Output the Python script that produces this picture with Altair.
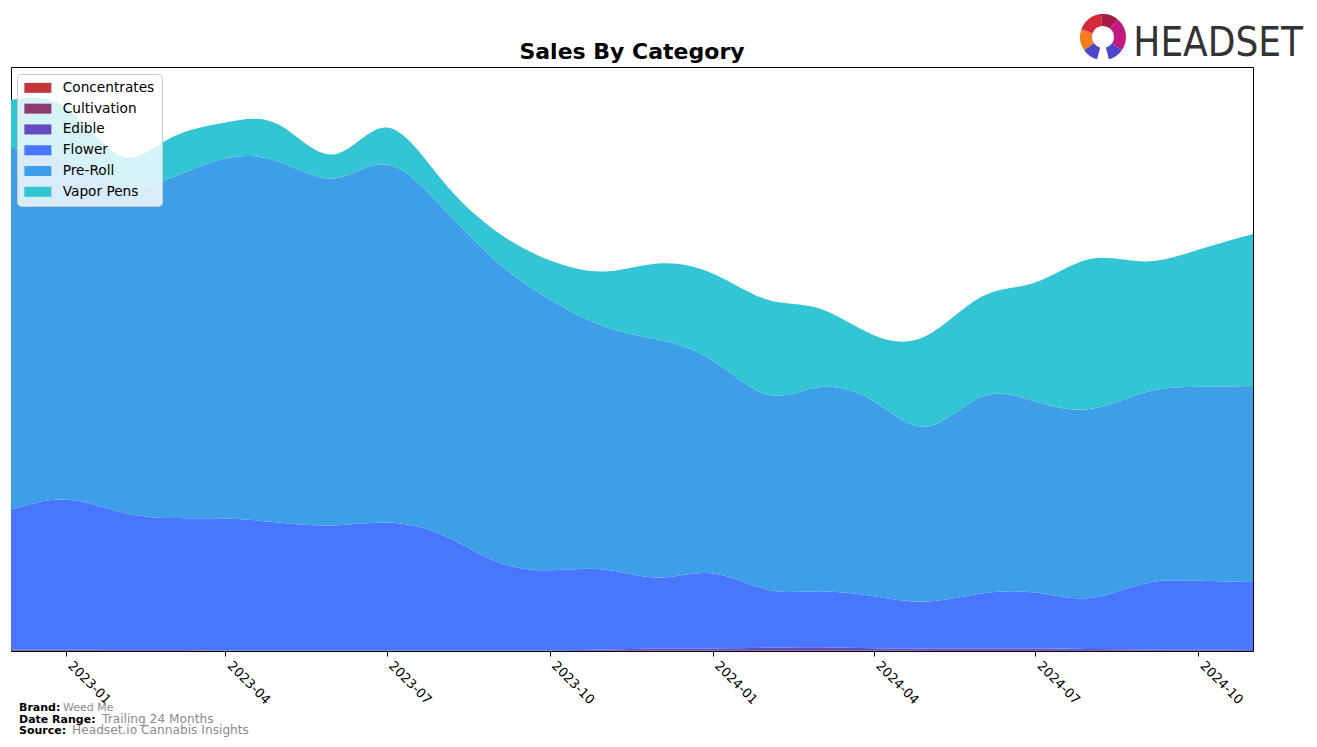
import altair as alt
import pandas as pd

# ---- data (arbitrary sales units) ----
dates = [
    "2022-12-01", "2023-01-01", "2023-02-01", "2023-03-01", "2023-04-01", "2023-05-01",
    "2023-06-01", "2023-07-01", "2023-08-01", "2023-09-01", "2023-10-01", "2023-11-01",
    "2023-12-01", "2024-01-01", "2024-02-01", "2024-03-01", "2024-04-01", "2024-05-01",
    "2024-06-01", "2024-07-01", "2024-08-01", "2024-09-01", "2024-10-01", "2024-11-01",
]
categories = ["Concentrates", "Cultivation", "Edible", "Flower", "Pre-Roll", "Vapor Pens"]
colors = ["#c4363a", "#8e3a6e", "#6549be", "#4876ff", "#3e9fe8", "#34c5d4"]

concentrates = [0, 0, 0, 0, 0, 0, 0, 0, 0, 0, 0, 0, 0, 0, 0, 0, 0, 0, 0, 0, 0, 0, 0, 0]
cultivation = [0.8, 0.8, 0.6, 0.5, 0.3, 0.2, 0.2, 0.2, 0.2, 0.2, 0.2, 0.3,
               0.4, 0.4, 0.5, 0.5, 0.4, 0.3, 0.3, 0.3, 0.3, 0.2, 0.2, 0.2]
edible = [0.5, 0.5, 0.5, 0.4, 0.3, 0.3, 0.3, 0.3, 0.3, 0.3, 0.5, 1.2,
          2.0, 2.2, 2.8, 3.2, 2.4, 2.2, 2.2, 2.2, 1.8, 1.4, 1.0, 0.9]
flower = [140, 150, 138, 132, 132, 128, 125, 128, 116, 89, 80, 80,
          71, 75, 58, 56, 52, 47, 55, 56, 51, 66, 69, 68]
preroll = [362, 340, 326, 340, 360, 361, 347, 358, 328, 300, 271, 243,
           238, 213, 195, 204, 195, 175, 197, 191, 189, 191, 194, 196]
vapor = [48, 52, 30, 40, 36, 37, 24, 37, 27, 30, 39, 55,
         76, 87, 95, 79, 66, 91, 100, 119, 150, 131, 137, 152]

series = [concentrates, cultivation, edible, flower, preroll, vapor]

tick_dates = ["2023-01", "2023-04", "2023-07", "2023-10", "2024-01", "2024-04", "2024-07", "2024-10"]

rows = []
for i, d in enumerate(dates):
    for k, (cat, vals) in enumerate(zip(categories, series)):
        rows.append({"date": d + "T00:00:00", "category": cat, "order": k, "sales": vals[i]})
df = pd.DataFrame(rows)


def dt(s):
    y, m = s.split("-")[:2]
    return alt.DateTime(year=int(y), month=int(m), date=1)


legend = alt.Legend(
    title=None, orient="none", legendX=6, legendY=7,
    fillColor="rgba(255,255,255,0.8)", strokeColor="#cccccc", cornerRadius=4,
    padding=7, symbolType="M-2.7,-1L2.7,-1L2.7,1L-2.7,1Z", symbolSize=100,
    symbolOffset=7, symbolStrokeWidth=0, symbolOpacity=1, labelOffset=18,
    labelFont="DejaVu Sans", labelFontSize=13.7, labelColor="black", rowPadding=5.8,
)

area = alt.Chart(df).mark_area(interpolate="natural", opacity=1).encode(
    x=alt.X(
        "date:T",
        scale=alt.Scale(domain=[dt("2022-12"), dt("2024-11")], nice=False),
        axis=alt.Axis(
            title=None, values=[dt(t) for t in tick_dates], format="%Y-%m",
            labelAngle=45, labelAlign="left", labelBaseline="top",
            labelFont="DejaVu Sans", labelFontSize=13, labelColor="black",
            tickColor="black", tickSize=5, tickWidth=1, domain=False, grid=False,
            labelPadding=3, labelOffset=8, labelOverlap=False, labelFlush=False,
        ),
    ),
    y=alt.Y("sales:Q", stack="zero", scale=alt.Scale(domain=[0, 584], nice=False), axis=None),
    color=alt.Color("category:N", scale=alt.Scale(domain=categories, range=colors), legend=legend),
    order=alt.Order("order:Q", sort="ascending"),
)


def label(text, x, y, size, weight="normal", color="black", align="left", font="DejaVu Sans"):
    return alt.Chart(pd.DataFrame({"t": [text]})).mark_text(
        align=align, baseline="alphabetic", fontSize=size, fontWeight=weight,
        color=color, font=font,
    ).encode(text="t:N", x=alt.value(x), y=alt.value(y))


texts = [
    label("Sales By Category", 621, -8, 22, weight="bold", align="center"),
    label("Brand:", 8, 644, 11, weight="bold"),
    label("Weed Me", 52, 644, 11, color="#8a8a8a"),
    label("Date Range:", 8, 655.5, 11, weight="bold"),
    label("Trailing 24 Months", 91, 655.5, 12.2, color="#8a8a8a"),
    label("Source:", 8, 667, 11, weight="bold"),
    label("Headset.io Cannabis Insights", 61, 667, 12.2, color="#8a8a8a"),
    label("HEADSET", 1292, -11, 40, color="#333333", align="right",
          font="Liberation Sans Narrow, DejaVu Sans Condensed, Liberation Sans, sans-serif"),
]

# logo ring segments (degrees clockwise from 12 o'clock)
seg_start = [235, 290, 355, 0, 40, 125, 195]
seg_end = [290, 355, 360, 40, 125, 165, 235]
seg_color = ["#f47b20", "#d42a39", "#a51d45", "#a51d45", "#c2187f", "#4e46c8", "#4e46c8"]
logo_df = pd.DataFrame({
    "t1": [a * 3.14159265 / 180 for a in seg_start],
    "t2": [a * 3.14159265 / 180 for a in seg_end],
    "c": seg_color,
})
logo = alt.Chart(logo_df).mark_arc(innerRadius=11, outerRadius=23).encode(
    theta=alt.Theta("t1:Q", scale=None),
    theta2=alt.Theta2("t2:Q"),
    fill=alt.Fill("c:N", scale=None),
    x=alt.value(1092),
    y=alt.value(-30),
)

chart = alt.layer(area, *texts, logo).properties(
    width=1242, height=584,
    padding={"left": 11, "top": 67, "right": 64, "bottom": 96},
    autosize=alt.AutoSizeParams(type="none"),
    background="white",
).configure_view(stroke="black", strokeWidth=1)

chart.save("out.html", embed_options={"renderer": "svg", "actions": False})
